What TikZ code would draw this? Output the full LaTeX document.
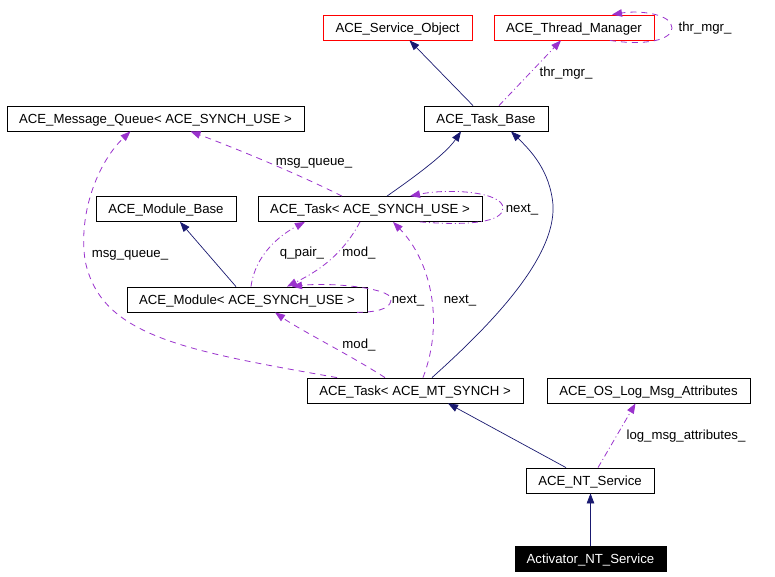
\documentclass[tikz,border=0pt]{standalone}
\usepackage{fontspec}
\setmainfont{Liberation Sans}
\usetikzlibrary{arrows.meta}
\definecolor{navyline}{HTML}{191970}
\definecolor{orchidline}{HTML}{9A32CD}
\tikzset{
  cls/.style={draw=black, line width=0.8pt, minimum height=25pt, inner sep=0pt, text height=9.6pt, text depth=0pt, font=\fontsize{13.2}{15}\selectfont},
  redcls/.style={cls, draw=red},
  focuscls/.style={cls, fill=black, text=white},
  inherit/.style={draw=navyline, line width=0.7pt, -{Triangle[length=10pt,width=7.5pt]}, color=navyline},
  usedash/.style={draw=orchidline, line width=0.8pt, dash pattern=on 6pt off 5pt, -{Triangle[length=10pt,width=7.5pt]}, color=orchidline},
  usedashdot/.style={draw=orchidline, line width=0.8pt, dash pattern=on 6pt off 3pt on 1pt off 3pt, -{Triangle[length=10pt,width=7.5pt]}, color=orchidline},
  lbl/.style={font=\fontsize{13.2}{15}\selectfont, inner sep=0pt, text height=9.6pt, text depth=0pt}
}
\begin{document}
\begin{tikzpicture}[x=1pt,y=-1pt]
\useasboundingbox (0,0) rectangle (775,577);
\fill[white] (0,0) rectangle (775,577);
% nodes
\node[redcls, minimum width=149pt] (svcobj) at (397.5,27.5) {ACE\_Service\_Object};
\node[redcls, minimum width=160pt] (thrmgr) at (574,27.5) {ACE\_Thread\_Manager};
\node[cls, minimum width=124pt] (taskbase) at (486,118.5) {ACE\_Task\_Base};
\node[cls, minimum width=297pt] (msgq) at (155.5,118.5) {ACE\_Message\_Queue< ACE\_SYNCH\_USE >};
\node[cls, minimum width=140pt] (modbase) at (166,209) {ACE\_Module\_Base};
\node[cls, minimum width=224pt] (tasksync) at (370,209) {ACE\_Task< ACE\_SYNCH\_USE >};
\node[cls, minimum width=240pt] (module) at (247,299.5) {ACE\_Module< ACE\_SYNCH\_USE >};
\node[cls, minimum width=216pt] (taskmt) at (415,390.5) {ACE\_Task< ACE\_MT\_SYNCH >};
\node[cls, minimum width=203pt] (oslog) at (648.5,390.5) {ACE\_OS\_Log\_Msg\_Attributes};
\node[cls, minimum width=128pt] (ntsvc) at (590,480.5) {ACE\_NT\_Service};
\node[focuscls, minimum width=151pt] (activator) at (590.5,558.5) {Activator\_NT\_Service};
% labels
\node[lbl] (l1) at (566,72) {thr\_mgr\_};
\node[lbl] (l2) at (705,27) {thr\_mgr\_};
\node[lbl] (l3) at (314,161) {msg\_queue\_};
\node[lbl] (l4) at (130,253) {msg\_queue\_};
\node[lbl] (l5) at (302,252) {q\_pair\_};
\node[lbl] (l6) at (359,252) {mod\_};
\node[lbl] (l7) at (522,208) {next\_};
\node[lbl] (l8) at (408,299) {next\_};
\node[lbl] (l9) at (460,299) {next\_};
\node[lbl] (l10) at (359,344) {mod\_};
\node[lbl] (l11) at (686,435) {log\_msg\_attributes\_};
% inheritance
\draw[inherit] ([xshift=-13pt]taskbase.north) -- ([xshift=12pt]svcobj.south);
\draw[inherit] ([xshift=17pt]tasksync.north) .. controls (410,180) and (445,155) .. ([xshift=-25pt]taskbase.south);
\draw[inherit] ([xshift=17pt]taskmt.north) .. controls (485,330) and (556,260) .. (553,205) .. controls (550,170) and (530,150) .. ([xshift=25pt]taskbase.south);
\draw[inherit] ([xshift=-11pt]module.north) -- ([xshift=14pt]modbase.south);
\draw[inherit] ([xshift=-24pt]ntsvc.north) -- ([xshift=33pt]taskmt.south);
\draw[inherit] (activator.north) -- (activator.north |- ntsvc.south);
% usage
\draw[usedashdot] ([xshift=13pt]taskbase.north) -- ([xshift=-13pt]thrmgr.south);
\draw[usedash] ([xshift=36pt]thrmgr.south) .. controls (645,46) and (672,40) .. (672,28) .. controls (672,14) and (640,10) .. ([xshift=38pt]thrmgr.north);
\draw[usedash] ([xshift=-28pt]tasksync.north) .. controls (300,175) and (240,150) .. ([xshift=35pt]msgq.south);
\draw[usedash] ([xshift=-78pt]taskmt.north) .. controls (180,350) and (100,335) .. (85,260) .. controls (78,210) and (100,160) .. ([xshift=-25pt]msgq.south);
\draw[usedashdot] ([xshift=4pt]module.north) .. controls (255,255) and (280,235) .. ([xshift=-65pt]tasksync.south);
\draw[usedashdot] ([xshift=-10pt]tasksync.south) .. controls (340,260) and (310,275) .. ([xshift=40pt]module.north);
\draw[usedash] ([xshift=110pt]module.south) .. controls (385,312) and (391,306) .. (391,299) .. controls (391,288) and (330,282) .. ([xshift=45pt]module.north);
\draw[usedashdot] ([xshift=50pt]tasksync.south) .. controls (470,226) and (503,222) .. (503,208) .. controls (503,192) and (450,188) .. ([xshift=40pt]tasksync.north);
\draw[usedash] ([xshift=8pt]taskmt.north) .. controls (445,320) and (430,260) .. ([xshift=23pt]tasksync.south);
\draw[usedash] ([xshift=-30pt]taskmt.north) .. controls (350,355) and (300,330) .. ([xshift=28pt]module.south);
\draw[usedashdot] ([xshift=8pt]ntsvc.north) -- ([xshift=-13pt]oslog.south);
\end{tikzpicture}
\end{document}
